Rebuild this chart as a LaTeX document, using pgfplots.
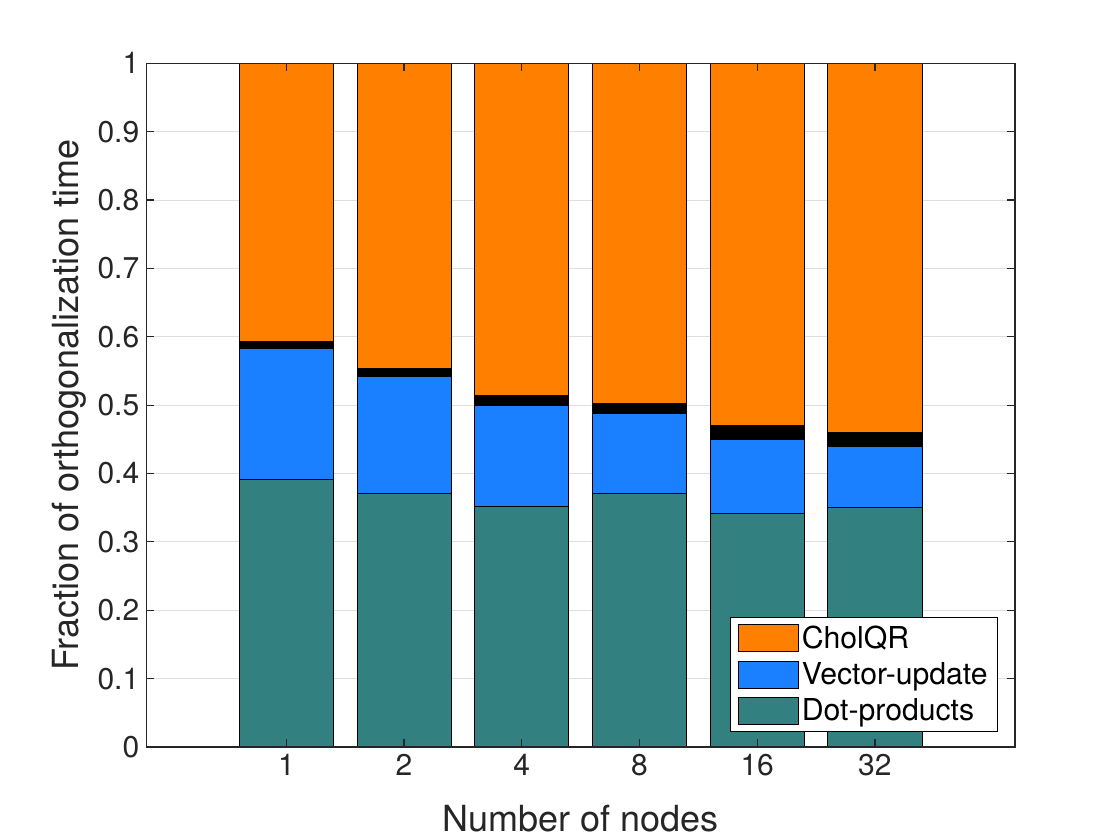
\documentclass[border=0pt]{standalone}
\usepackage{fontspec}
\setmainfont{TeX Gyre Heros}
\usepackage{pgfplots}
\pgfplotsset{compat=1.18}
\definecolor{cholqr}{RGB}{255,128,0}
\definecolor{vecup}{RGB}{26,128,255}
\definecolor{dotp}{RGB}{51,128,128}
\definecolor{axgray}{RGB}{38,38,38}
\pgfplotsset{
 common/.style={
  at={(73.15pt,46.5pt)}, anchor=south west,
  width=434.35pt, height=341.85pt, scale only axis,
  xmin=-0.19, xmax=7.19, ymin=0, ymax=1,
  xtick={1,2,3,4,5,6}, xticklabels={1,2,4,8,16,32},
  ytick={0,0.1,0.2,0.3,0.4,0.5,0.6,0.7,0.8,0.9,1},
  yticklabels={0,0.1,0.2,0.3,0.4,0.5,0.6,0.7,0.8,0.9,1},
 }
}
\begin{document}
\begin{tikzpicture}
\fill[white] (0,0) rectangle (560pt,420pt);
% grid and bars
\begin{axis}[
 common,
 ybar stacked, bar width=0.8,
 axis line style={draw=none},
 major tick length=0pt,
 xticklabels={}, yticklabels={},
 ymajorgrids,
 grid style={draw=black!13, line width=0.5pt},
 legend style={at={(1,0)}, anchor=south east, xshift=-8.5pt, yshift=7.5pt,
   draw=black, line width=0.5pt, font=\fontsize{15.1}{18}\selectfont,
   inner xsep=3.3pt, inner ysep=2.6pt, row sep=2.3pt,
   nodes={inner sep=1.6pt}},
 legend cell align=left,
 reverse legend,
 legend image code/.code={\draw[#1, draw=black, line width=0.5pt] (0.5pt,-6.75pt) rectangle (30.5pt,6.75pt);},
 every axis plot/.append style={draw=black, line width=0.5pt},
]
\addplot[fill=dotp] coordinates {(1,0.3915) (2,0.3711) (3,0.3520) (4,0.3711) (5,0.3418) (6,0.3506)};
\addlegendentry{Dot-products}
\addplot[fill=vecup] coordinates {(1,0.1911) (2,0.1705) (3,0.1472) (4,0.1164) (5,0.1077) (6,0.0882)};
\addlegendentry{Vector-update}
\addplot[fill=black, forget plot] coordinates {(1,0.0098) (2,0.0113) (3,0.0156) (4,0.0156) (5,0.0200) (6,0.0205)};
\addplot[fill=cholqr] coordinates {(1,0.4076) (2,0.4471) (3,0.4852) (4,0.4969) (5,0.5305) (6,0.5407)};
\addlegendentry{CholQR}
\end{axis}
% frame, ticks, labels
\begin{axis}[
 common,
 axis on top,
 tick pos=both, tick align=inside, major tick length=3.8pt,
 axis line style={draw=axgray, line width=0.6pt},
 tick style={draw=axgray, line width=0.6pt},
 ticklabel style={font=\fontsize{15}{18}\selectfont, text=axgray},
 /pgf/number format/assume math mode=true,
 label style={font=\fontsize{18}{21}\selectfont, text=axgray},
 xlabel={Number of nodes}, ylabel={Fraction of orthogonalization time},
 xlabel style={at={(axis description cs:0.5,-0.1243)}, anchor=base},
 ylabel style={at={(axis description cs:-0.0786,0.5)}, anchor=base},
]
\end{axis}
\end{tikzpicture}
\end{document}
